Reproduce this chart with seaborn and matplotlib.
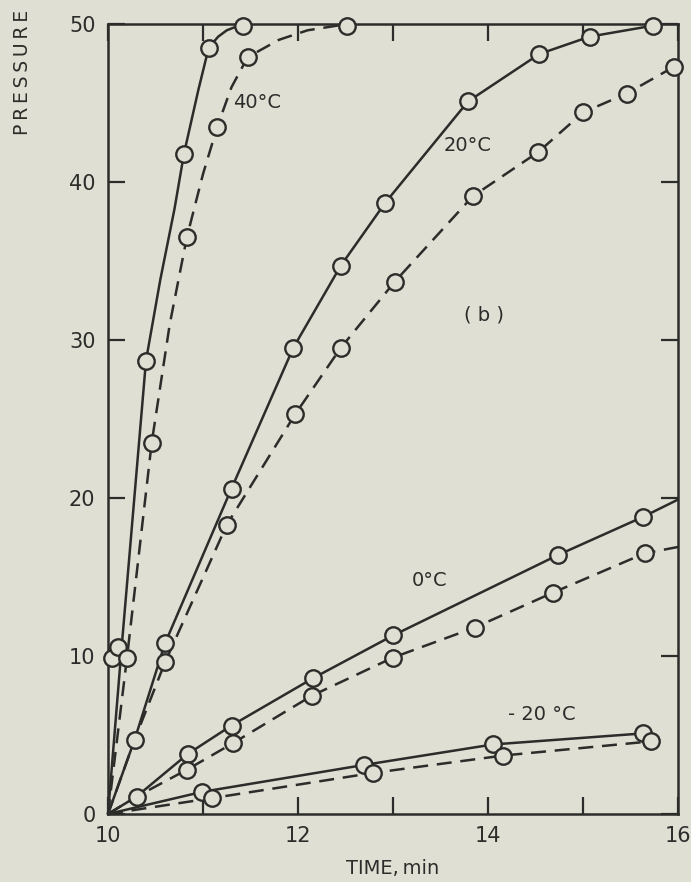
import numpy as np
import pandas as pd
import matplotlib
matplotlib.use("Agg")
import matplotlib.pyplot as plt
import seaborn as sns

# marker data (time in min, pressure)
t40_solid = [10.04, 10.10, 10.40, 10.80, 11.06, 11.42]
p40_solid = [9.9, 10.6, 28.7, 41.8, 48.5, 49.9]
t40_dash = [10.20, 10.46, 10.83, 11.15, 11.47, 12.52]
p40_dash = [9.9, 23.5, 36.5, 43.5, 47.9, 49.9]

t20_solid = [10.28, 10.60, 11.30, 11.95, 12.45, 12.92, 13.79, 14.54, 15.07, 15.74]
p20_solid = [4.7, 10.8, 20.6, 29.5, 34.7, 38.7, 45.1, 48.1, 49.2, 49.9]
t20_dash = [10.60, 11.25, 11.97, 12.45, 13.02, 13.84, 14.53, 15.00, 15.46, 15.96]
p20_dash = [9.6, 18.3, 25.3, 29.5, 33.7, 39.1, 41.9, 44.4, 45.6, 47.3]

t0_solid = [10.30, 10.84, 11.30, 12.16, 13.00, 14.74, 15.63]
p0_solid = [1.1, 3.8, 5.6, 8.6, 11.3, 16.4, 18.8]
t0_dash = [10.83, 11.32, 12.15, 13.00, 13.86, 14.68, 15.65]
p0_dash = [2.8, 4.5, 7.5, 9.9, 11.8, 14.0, 16.5]

tm20_solid = [10.99, 12.69, 14.05, 15.63]
pm20_solid = [1.4, 3.1, 4.4, 5.1]
tm20_dash = [11.09, 12.79, 14.16, 15.72]
pm20_dash = [1.0, 2.6, 3.7, 4.6]

# drawn curves
c40_solid_t = [10.0, 10.14, 10.40, 10.55, 10.70, 10.80, 10.95, 11.06, 11.16, 11.25, 11.42]
c40_solid_p = [0.0, 10.3, 28.7, 33.8, 38.3, 41.8, 45.8, 48.5, 49.2, 49.6, 50.0]
c40_dash_t = [10.0, 10.20, 10.46, 10.65, 10.83, 11.00, 11.15, 11.30, 11.47, 11.80, 12.10, 12.52]
c40_dash_p = [0.0, 9.9, 23.5, 31.0, 36.5, 40.5, 43.5, 46.0, 47.9, 49.0, 49.6, 50.0]

c20_solid_t = [10.0] + t20_solid
c20_solid_p = [0.0] + p20_solid
c20_dash_t = [10.0, 10.28] + t20_dash
c20_dash_p = [0.0, 4.7] + p20_dash

c0_solid_t = [10.0] + t0_solid + [16.0]
c0_solid_p = [0.0] + p0_solid + [19.9]
c0_dash_t = [10.0, 10.30] + t0_dash + [16.0]
c0_dash_p = [0.0, 1.1] + p0_dash + [16.9]

cm20_solid_t = [10.0] + tm20_solid
cm20_solid_p = [0.0] + pm20_solid
cm20_dash_t = [10.0] + tm20_dash
cm20_dash_p = [0.0] + pm20_dash

bg = "#dfe0d3"
ink = "#2c2c2a"

sns.set_style("ticks")
plt.rcParams["font.family"] = ["DejaVu Sans"]

fig = plt.figure(figsize=(6.91, 8.82), dpi=100, facecolor=bg)
ax = fig.add_axes([108 / 691, 1 - 814 / 882, 570 / 691, 790 / 882])
ax.set_facecolor(bg)

curves = [
    (c40_solid_t, c40_solid_p, "-"), (c40_dash_t, c40_dash_p, "--"),
    (c20_solid_t, c20_solid_p, "-"), (c20_dash_t, c20_dash_p, "--"),
    (c0_solid_t, c0_solid_p, "-"), (c0_dash_t, c0_dash_p, "--"),
    (cm20_solid_t, cm20_solid_p, "-"), (cm20_dash_t, cm20_dash_p, "--"),
]
for t, p, ls in curves:
    df = pd.DataFrame({"t": t, "p": p})
    sns.lineplot(data=df, x="t", y="p", sort=False, color=ink, lw=1.8, ax=ax)
    l = ax.lines[-1]
    if ls == "--":
        l.set_dashes((6, 3.5))
    l.set_clip_on(False)

points = [
    (t40_solid, p40_solid), (t40_dash, p40_dash),
    (t20_solid, p20_solid), (t20_dash, p20_dash),
    (t0_solid, p0_solid), (t0_dash, p0_dash),
    (tm20_solid, pm20_solid), (tm20_dash, pm20_dash),
]
for t, p in points:
    sns.scatterplot(x=t, y=p, marker="o", s=140, facecolor=bg, edgecolor=ink,
                    linewidth=1.7, ax=ax, zorder=5, clip_on=False)

ax.set_xlim(10, 16)
ax.set_ylim(0, 50)
ax.set_xticks([10, 12, 14, 16])
ax.set_xticklabels(["10", "12", "14", "16"])
ax.set_xticks([11, 13, 15], minor=True)
ax.set_yticks([0, 10, 20, 30, 40, 50])
ax.set_yticklabels(["0", "10", "20", "30", "40", "50"])
ax.tick_params(axis="both", which="both", direction="in", length=12, width=1.6,
               color=ink, labelcolor=ink, labelsize=15, top=True, right=True)
ax.tick_params(axis="x", pad=9)
ax.tick_params(axis="y", pad=9)
for s in ax.spines.values():
    s.set_color(ink)
    s.set_linewidth(1.8)
ax.set_xlabel("")
ax.set_ylabel("")

kw = dict(color=ink, fontsize=14, va="center", ha="left")
ax.text(11.32, 45.0, "40°C", **kw)
ax.text(13.53, 42.3, "20°C", **kw)
ax.text(13.20, 14.8, "0°C", **kw)
ax.text(14.21, 6.3, "- 20 °C", **kw)
ax.text(13.75, 31.6, "( b )", **kw)

fig.text(393 / 691, 1 - 868 / 882, "TIME,\u2009min", ha="center", va="center",
         fontsize=14, color=ink)
fig.text(23 / 691, 1 - 10 / 882, "\u2009".join("PRESSURE"), rotation=90,
         ha="center", va="top", fontsize=13.5, color=ink)

fig.savefig("out.png", dpi=100, facecolor=bg)
